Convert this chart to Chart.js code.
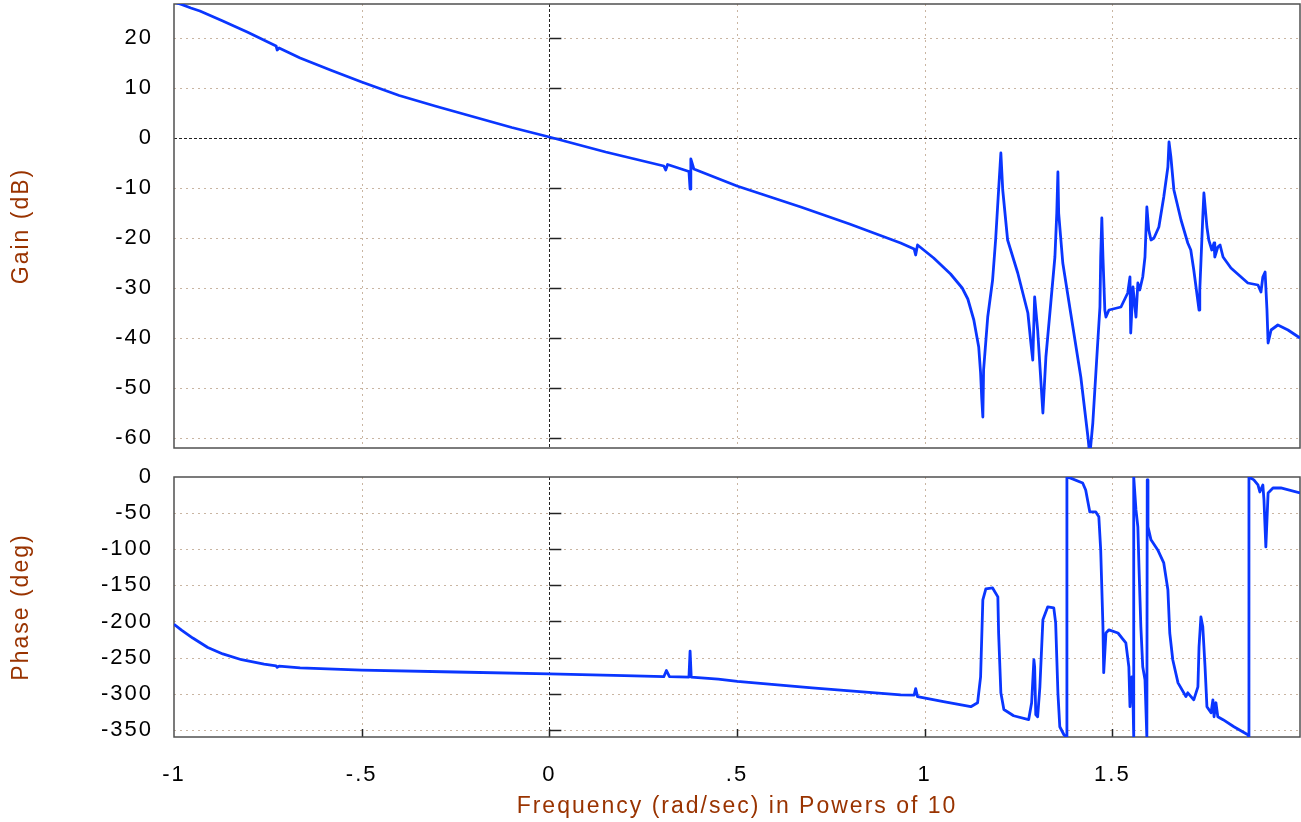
<!DOCTYPE html>
<html>
<head>
<meta charset="utf-8">
<script src="https://cdn.jsdelivr.net/npm/chart.js@4.4.1/dist/chart.umd.min.js"></script>
<style>
  html, body { margin: 0; padding: 0; background: #ffffff; }
  #wrap { position: relative; width: 1301px; height: 822px; overflow: hidden; background: #fff; }
  #gainBox { position: absolute; left: 0; top: 0; width: 1301px; height: 452px; }
  #phaseBox { position: absolute; left: 0; top: 455px; width: 1301px; height: 367px; }
</style>
</head>
<body>
<div id="wrap">
  <div id="gainBox"><canvas id="gain" width="1301" height="452"></canvas></div>
  <div id="phaseBox"><canvas id="phase" width="1301" height="367"></canvas></div>
</div>
<script>
// ---------------- DATA ----------------
// x values are log10(frequency in rad/sec)
const freqTicks = [-1, -0.5, 0, 0.5, 1, 1.5];
const freqTickLabels = ['-1', '-.5', '0', '.5', '1', '1.5'];
const gainTicks = [20, 10, 0, -10, -20, -30, -40, -50, -60];
const phaseTicks = [0, -50, -100, -150, -200, -250, -300, -350];

const gainX = [
  -1.0, -0.98, -0.955, -0.931, -0.87, -0.805, -0.728, -0.725, -0.72, -0.664, -0.58,
  -0.5, -0.4, -0.3, -0.2, -0.1, 0.0, 0.15, 0.305, 0.31, 0.315, 0.372,
  0.375, 0.377, 0.385, 0.5, 0.67, 0.8, 0.936, 0.972, 0.976, 0.981,
  1.024, 1.069, 1.1, 1.115, 1.131, 1.144, 1.149, 1.152, 1.155, 1.157, 1.168, 1.181,
  1.189, 1.197, 1.203, 1.208, 1.221, 1.248, 1.275, 1.283, 1.288, 1.293,
  1.301, 1.315, 1.323, 1.336, 1.347, 1.352, 1.355, 1.357, 1.368, 1.389,
  1.416, 1.435, 1.44, 1.448, 1.461, 1.467, 1.469, 1.472, 1.475, 1.480,
  1.483, 1.491, 1.523, 1.541, 1.547, 1.549, 1.555, 1.563, 1.568, 1.573,
  1.581, 1.587, 1.592, 1.597, 1.603, 1.611, 1.624, 1.637, 1.648, 1.651,
  1.656, 1.664, 1.683, 1.701, 1.709, 1.717, 1.731, 1.733, 1.741, 1.744,
  1.752, 1.757, 1.765, 1.771, 1.773, 1.781, 1.787, 1.795, 1.816, 1.861,
  1.888, 1.896, 1.901, 1.907, 1.912, 1.915, 1.923, 1.941, 1.968, 2.0
];
const gainDb = [
  27.2, 26.7, 26.0, 25.4, 23.4, 21.2, 18.4, 17.6, 18.0, 16.0, 13.5,
  11.2, 8.5, 6.3, 4.2, 2.1, 0.2, -2.8, -5.6, -6.4, -5.3, -6.7,
  -10.2, -4.2, -6.2, -9.6, -13.8, -17.2, -21.0, -22.2, -23.4, -21.4,
  -24.0, -27.2, -30.0, -32.2, -36.4, -41.8, -47.0, -52.0, -55.8, -46.4, -35.8, -28.4,
  -20.4, -10.4, -3.0, -10.4, -20.4, -27.0, -35.0, -41.0, -44.4, -31.8,
  -38.4, -55.0, -43.8, -33.0, -23.8, -15.0, -6.8, -15.0, -25.0, -35.0,
  -47.8, -59.8, -63.5, -57.0, -41.0, -33.8, -23.8, -16.0, -23.8, -34.4,
  -35.8, -34.4, -33.8, -31.0, -27.8, -39.0, -29.8, -35.8, -29.0, -30.4,
  -27.8, -23.8, -13.8, -18.4, -20.4, -20.0, -17.8, -11.8, -5.8, -0.8,
  -3.8, -10.4, -16.4, -21.0, -22.4, -26.4, -34.4, -30.4, -15.8, -11.0,
  -17.8, -20.4, -22.4, -21.0, -23.8, -21.8, -21.4, -23.8, -26.0, -29.0,
  -29.4, -30.8, -27.8, -26.8, -34.4, -41.0, -38.4, -37.4, -38.4, -40.0
];

const phaseX = [
  -1.0, -0.98, -0.95, -0.91, -0.87, -0.82, -0.76, -0.728, -0.725, -0.72, -0.664,
  -0.5, -0.25, 0.0, 0.2, 0.305, 0.312, 0.32, 0.372, 0.375, 0.378,
  0.45, 0.501, 0.7, 0.936, 0.972, 0.976, 0.981, 1.05, 1.123, 1.141,
  1.149, 1.155, 1.163, 1.181, 1.195, 1.197, 1.203, 1.211, 1.237, 1.277,
  1.285, 1.291, 1.293, 1.296, 1.301, 1.307, 1.315, 1.328, 1.344, 1.349,
  1.355, 1.360, 1.371, 1.379, 1.379, 1.384, 1.421, 1.429, 1.440, 1.456,
  1.464, 1.469, 1.475, 1.477, 1.483, 1.491, 1.515, 1.536, 1.544, 1.547,
  1.552, 1.555, 1.557, 1.557, 1.563, 1.568, 1.571, 1.576, 1.581, 1.587,
  1.592, 1.593, 1.595, 1.603, 1.621, 1.637, 1.648, 1.653, 1.661, 1.675,
  1.696, 1.701, 1.717, 1.728, 1.731, 1.736, 1.741, 1.747, 1.752, 1.763,
  1.768, 1.771, 1.776, 1.781, 1.795, 1.824, 1.861, 1.864, 1.864, 1.877,
  1.888, 1.893, 1.901, 1.904, 1.909, 1.915, 1.928, 1.949, 2.0
];
const phaseDeg = [
  -204, -212, -223, -236, -245, -253, -259, -261.5, -263.5, -261.8, -264.2,
  -267.5, -270, -272.5, -275, -276.5, -268, -276.5, -277, -241, -277,
  -280, -283, -292, -301.6, -302, -293, -304, -311, -318, -312.6,
  -276.7, -170, -155, -153.6, -166, -215.8, -298.8, -322, -330.6, -336,
  -312.6, -253, -262.8, -329, -332, -290.5, -197.8, -179.8, -181.2, -202,
  -298.8, -345.8, -356.9, -361, 0, -0.5, -8.3, -18, -48.4, -48.4,
  -55, -101, -207.5, -271, -216, -211.6, -216, -229.6, -262.8, -318,
  -276.7, -308.5, -361, 0, -45.6, -69, -124.5, -207.5, -262.8, -280.8,
  -361, -4, -69, -87, -101, -119, -156, -216, -253, -285,
  -304, -298.8, -308.5, -290.5, -235, -193.7, -207.5, -262.8, -318, -326.5,
  -308.5, -332, -312.6, -332, -336, -345.8, -356.9, -361, 0, -4,
  -11, -20.7, -11, -31.8, -96.8, -22, -15.2, -15.2, -22
];

// ---------------- STYLE ----------------
const FONT_FAMILY = "'Liberation Sans', Arial, Helvetica, sans-serif";
const TITLE_COLOR = '#993300';
const LINE_COLOR = '#0a36ff';
const GRID_COLOR = '#c9b5a2';

const toPts = (xs, ys) => xs.map((v, i) => ({ x: v, y: ys[i] }));

// widen text slightly to match the reference's broad lettering
const wideText = {
  id: 'wideText',
  beforeDraw(chart) { if ('letterSpacing' in chart.ctx) chart.ctx.letterSpacing = '2px'; }
};

const bodeGrid = {
  id: 'bodeGrid',
  beforeDatasetsDraw(chart, args, opts) {
    const { ctx, chartArea } = chart;
    const { left, right, top, bottom } = chartArea;
    const xs = chart.scales.x, ys = chart.scales.y;
    ctx.save();
    ctx.lineWidth = 1;
    const seg = (x1, y1, x2, y2) => { ctx.beginPath(); ctx.moveTo(x1, y1); ctx.lineTo(x2, y2); ctx.stroke(); };
    opts.xTicks.forEach(v => {
      const px = Math.round(xs.getPixelForValue(v)) + 0.5;
      if (px <= left + 1 || px >= right - 1) return;
      if (v === 0) { ctx.strokeStyle = '#222'; ctx.setLineDash([3, 2]); }
      else { ctx.strokeStyle = GRID_COLOR; ctx.setLineDash([2, 4]); }
      seg(px, top, px, bottom);
    });
    opts.yTicks.forEach(v => {
      const py = Math.round(ys.getPixelForValue(v)) + 0.5;
      if (py <= top + 1 || py >= bottom - 1) return;
      if (v === 0) { ctx.strokeStyle = '#222'; ctx.setLineDash([3, 2]); }
      else { ctx.strokeStyle = GRID_COLOR; ctx.setLineDash([2, 4]); }
      seg(left, py, right, py);
    });
    ctx.setLineDash([]);
    ctx.strokeStyle = '#222';
    ctx.lineWidth = 1.5;
    const x0 = xs.getPixelForValue(0);
    opts.yTicks.forEach(v => {
      const py = Math.round(ys.getPixelForValue(v)) + 0.5;
      if (py <= top + 1 || py >= bottom - 1) return;
      seg(x0, py, x0 + 12, py);
    });
    if (opts.bottomTicks) {
      opts.xTicks.forEach(v => {
        const px = Math.round(xs.getPixelForValue(v)) + 0.5;
        if (px <= left + 1 || px >= right - 1) return;
        seg(px, bottom, px, bottom - 8);
      });
    }
    ctx.strokeStyle = '#505050';
    ctx.lineWidth = 1.5;
    ctx.strokeRect(left, top, right - left, bottom - top);
    ctx.restore();
  }
};

const yAxisCommon = (ticksArr, title, min, max) => ({
  type: 'linear',
  min: min, max: max,
  afterFit: s => { s.width = 174; s.paddingTop = 0; s.paddingBottom = 0; },
  afterBuildTicks: s => { s.ticks = ticksArr.map(v => ({ value: v })); },
  grid: { display: false, drawTicks: false },
  border: { display: false },
  ticks: {
    padding: 21,
    color: '#000',
    font: { family: FONT_FAMILY, size: 22 },
    callback: v => String(v)
  },
  title: {
    display: true,
    text: title,
    color: TITLE_COLOR,
    font: { family: FONT_FAMILY, size: 23 },
    padding: { top: 8, bottom: 0 }
  }
});

Chart.defaults.devicePixelRatio = 1;

new Chart(document.getElementById('gain'), {
  type: 'scatter',
  data: {
    datasets: [{
      data: toPts(gainX, gainDb),
      showLine: true,
      borderColor: LINE_COLOR,
      borderWidth: 2.8,
      pointRadius: 0,
      fill: false,
      tension: 0,
      borderJoinStyle: 'round'
    }]
  },
  options: {
    responsive: false,
    animation: false,
    devicePixelRatio: 1,
    layout: { padding: { top: 4, bottom: 4, left: 0, right: 1 } },
    plugins: {
      legend: { display: false },
      tooltip: { enabled: false },
      bodeGrid: { xTicks: freqTicks, yTicks: gainTicks, bottomTicks: false }
    },
    scales: {
      x: { type: 'linear', min: -1, max: 2, display: false },
      y: yAxisCommon(gainTicks, 'Gain (dB)', -62, 26.8)
    }
  },
  plugins: [wideText, bodeGrid]
});

new Chart(document.getElementById('phase'), {
  type: 'scatter',
  data: {
    datasets: [{
      data: toPts(phaseX, phaseDeg),
      showLine: true,
      borderColor: LINE_COLOR,
      borderWidth: 2.8,
      pointRadius: 0,
      fill: false,
      tension: 0,
      borderJoinStyle: 'round'
    }]
  },
  options: {
    responsive: false,
    animation: false,
    devicePixelRatio: 1,
    layout: { padding: { top: 22, bottom: 0, left: 0, right: 1 } },
    plugins: {
      legend: { display: false },
      tooltip: { enabled: false },
      bodeGrid: { xTicks: freqTicks, yTicks: phaseTicks, bottomTicks: true }
    },
    scales: {
      x: {
        type: 'linear',
        min: -1, max: 2,
        afterFit: s => { s.height = 85; s.paddingLeft = 0; s.paddingRight = 0; },
        afterBuildTicks: s => { s.ticks = freqTicks.map(v => ({ value: v })); },
        grid: { display: false, drawTicks: false },
        border: { display: false },
        ticks: {
          padding: 25,
          autoSkip: false,
          maxRotation: 0,
          color: '#000',
          font: { family: FONT_FAMILY, size: 22 },
          callback: (v, i) => freqTickLabels[i]
        },
        title: {
          display: true,
          text: 'Frequency (rad/sec) in Powers of 10',
          color: TITLE_COLOR,
          font: { family: FONT_FAMILY, size: 23 },
          padding: { top: 0, bottom: 2 }
        }
      },
      y: yAxisCommon(phaseTicks, 'Phase (deg)', -360, 0)
    }
  },
  plugins: [wideText, bodeGrid]
});
</script>
</body>
</html>
